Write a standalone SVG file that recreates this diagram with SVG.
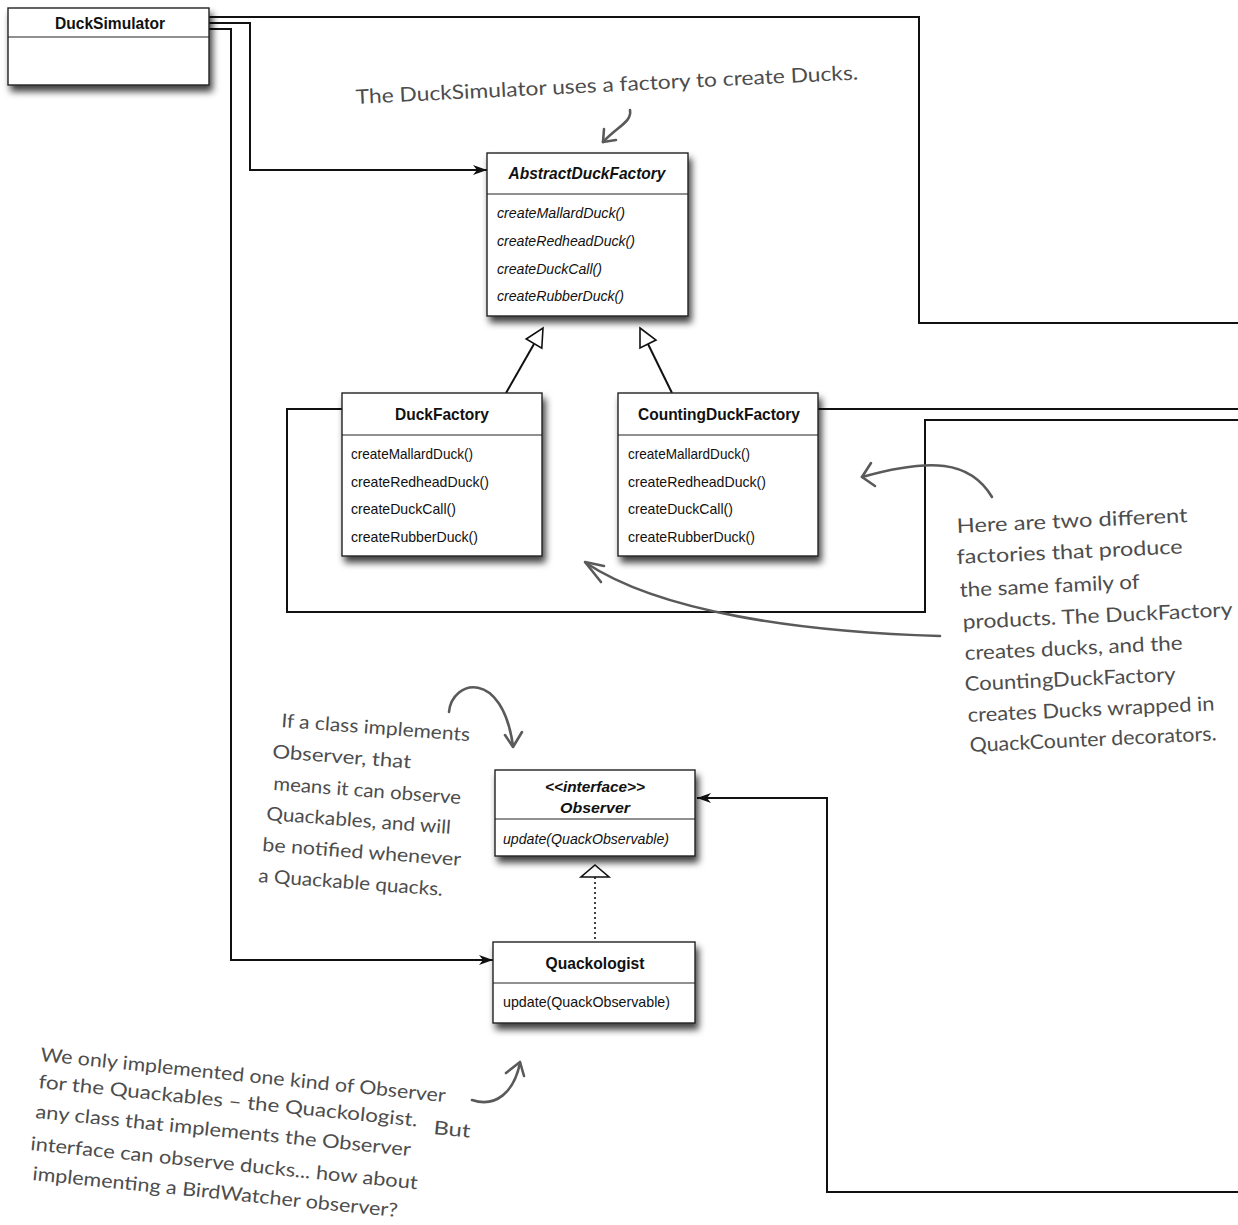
<svg xmlns="http://www.w3.org/2000/svg" width="1238" height="1225" viewBox="0 0 1238 1225">
<style>
.box{fill:#fff;stroke:#222;stroke-width:1.4}
.div{stroke:#222;stroke-width:1.2}
.title{font-family:"Liberation Sans",Arial,sans-serif;font-size:16.5px;font-weight:bold;fill:#111;text-anchor:middle}
.ititle{font-family:"Liberation Sans",Arial,sans-serif;font-size:16.5px;font-weight:bold;font-style:italic;fill:#111;text-anchor:middle}
.m{font-family:"Liberation Sans",Arial,sans-serif;font-size:14.5px;fill:#111}
.im{font-family:"Liberation Sans",Arial,sans-serif;font-size:14.5px;font-style:italic;fill:#111}
.conn{fill:none;stroke:#111;stroke-width:2}
.hand{font-family:Lato,"Open Sans",sans-serif;font-size:20px;fill:#4d4d4d}
.hand2{font-family:Lato,"Open Sans",sans-serif;font-size:19px;fill:#4d4d4d}
.harrow{fill:none;stroke:#5a5a5a;stroke-width:2.6;stroke-linecap:round;stroke-linejoin:round}
</style>
<defs>
<filter id="sh" x="-10%" y="-10%" width="130%" height="145%">
<feDropShadow dx="3" dy="6" stdDeviation="3.5" flood-color="#000" flood-opacity="0.75"/>
</filter>
<marker id="arr" markerWidth="14" markerHeight="10" refX="14" refY="5" orient="auto" markerUnits="userSpaceOnUse">
<path d="M0,0 L14,5 L0,10 L4,5 z" fill="#111"/>
</marker>
</defs>

<g id="connectors">
<polyline class="conn" points="209,17 919,17 919,323 1238,323"/>
<polyline class="conn" points="209,23 250,23 250,170 487,170" marker-end="url(#arr)"/>
<polyline class="conn" points="209,29 231,29 231,960 493,960" marker-end="url(#arr)"/>
<polyline class="conn" points="342,409 287,409 287,612 925,612 925,420 1238,420"/>
<polyline class="conn" points="818,409 1238,409"/>
<polyline class="conn" points="1238,1192 827,1192 827,798 697,798" marker-end="url(#arr)"/>
<line class="conn" x1="506" y1="393" x2="534" y2="344"/>
<polygon points="543,328 541.8,348.2 526.2,339" fill="#fff" stroke="#111" stroke-width="1.6"/>
<line class="conn" x1="672" y1="393" x2="648" y2="344"/>
<polygon points="640,328 656,340 640,348" fill="#fff" stroke="#111" stroke-width="1.6"/>
<line x1="595" y1="877" x2="595" y2="940" stroke="#111" stroke-width="1.6" stroke-dasharray="2,3"/>
<polygon points="595,865 609,877 581,877" fill="#fff" stroke="#111" stroke-width="1.6"/>
</g>

<g id="DuckSimulator">
<rect class="box" x="8" y="8" width="201" height="77" filter="url(#sh)"/>
<line class="div" x1="8" y1="37" x2="209" y2="37"/>
<text class="title" x="110" y="29" textLength="110" lengthAdjust="spacingAndGlyphs">DuckSimulator</text>
</g>

<g id="AbstractDuckFactory">
<rect class="box" x="487" y="153" width="201" height="163" filter="url(#sh)"/>
<line class="div" x1="487" y1="194" x2="688" y2="194"/>
<text class="ititle" x="587" y="179" textLength="157" lengthAdjust="spacingAndGlyphs">AbstractDuckFactory</text>
<text class="im" x="497" y="218" textLength="128" lengthAdjust="spacingAndGlyphs">createMallardDuck()</text>
<text class="im" x="497" y="246" textLength="138" lengthAdjust="spacingAndGlyphs">createRedheadDuck()</text>
<text class="im" x="497" y="274" textLength="105" lengthAdjust="spacingAndGlyphs">createDuckCall()</text>
<text class="im" x="497" y="301" textLength="127" lengthAdjust="spacingAndGlyphs">createRubberDuck()</text>
</g>

<g id="DuckFactory">
<rect class="box" x="342" y="393" width="200" height="163" filter="url(#sh)"/>
<line class="div" x1="342" y1="435" x2="542" y2="435"/>
<text class="title" x="442" y="420" textLength="94" lengthAdjust="spacingAndGlyphs">DuckFactory</text>
<text class="m" x="351" y="459" textLength="122" lengthAdjust="spacingAndGlyphs">createMallardDuck()</text>
<text class="m" x="351" y="487" textLength="138" lengthAdjust="spacingAndGlyphs">createRedheadDuck()</text>
<text class="m" x="351" y="514" textLength="105" lengthAdjust="spacingAndGlyphs">createDuckCall()</text>
<text class="m" x="351" y="542" textLength="127" lengthAdjust="spacingAndGlyphs">createRubberDuck()</text>
</g>

<g id="CountingDuckFactory">
<rect class="box" x="618" y="393" width="200" height="163" filter="url(#sh)"/>
<line class="div" x1="618" y1="435" x2="818" y2="435"/>
<text class="title" x="719" y="420" textLength="162" lengthAdjust="spacingAndGlyphs">CountingDuckFactory</text>
<text class="m" x="628" y="459" textLength="122" lengthAdjust="spacingAndGlyphs">createMallardDuck()</text>
<text class="m" x="628" y="487" textLength="138" lengthAdjust="spacingAndGlyphs">createRedheadDuck()</text>
<text class="m" x="628" y="514" textLength="105" lengthAdjust="spacingAndGlyphs">createDuckCall()</text>
<text class="m" x="628" y="542" textLength="127" lengthAdjust="spacingAndGlyphs">createRubberDuck()</text>
</g>

<g id="Observer">
<rect class="box" x="495" y="770" width="200" height="86" filter="url(#sh)"/>
<line class="div" x1="495" y1="819" x2="695" y2="819"/>
<text class="ititle" x="595" y="792" style="font-size:15.5px" textLength="100" lengthAdjust="spacingAndGlyphs">&lt;&lt;interface&gt;&gt;</text>
<text class="ititle" x="595" y="813" style="font-size:15.5px" textLength="70" lengthAdjust="spacingAndGlyphs">Observer</text>
<text class="im" x="503" y="844" textLength="166" lengthAdjust="spacingAndGlyphs">update(QuackObservable)</text>
</g>

<g id="Quackologist">
<rect class="box" x="493" y="942" width="202" height="81" filter="url(#sh)"/>
<line class="div" x1="493" y1="983" x2="695" y2="983"/>
<text class="title" x="595" y="969" textLength="99" lengthAdjust="spacingAndGlyphs">Quackologist</text>
<text class="m" x="503" y="1007" textLength="167" lengthAdjust="spacingAndGlyphs">update(QuackObservable)</text>
</g>

<g id="note-factory">
<text class="hand" x="356" y="104" transform="rotate(-2.8 356 104)" textLength="503" lengthAdjust="spacingAndGlyphs">The DuckSimulator uses a factory to create Ducks.</text>
<path class="harrow" d="M630 110 C632 122 618 126 603 142"/>
<path class="harrow" d="M604 129 L603 142 L616 140"/>
</g>

<g id="note-two-factories">
<text class="hand" x="957" y="533" transform="rotate(-2.7 957 533)" textLength="231" lengthAdjust="spacingAndGlyphs">Here are two different</text>
<text class="hand" x="957" y="564" transform="rotate(-2.7 957 564)" textLength="226" lengthAdjust="spacingAndGlyphs">factories that produce</text>
<text class="hand" x="960" y="597" transform="rotate(-2.7 960 597)" textLength="180" lengthAdjust="spacingAndGlyphs">the same family of</text>
<text class="hand" x="963" y="629" transform="rotate(-2.7 963 629)" textLength="270" lengthAdjust="spacingAndGlyphs">products. The DuckFactory</text>
<text class="hand" x="965" y="660" transform="rotate(-2.7 965 660)" textLength="218" lengthAdjust="spacingAndGlyphs">creates ducks, and the</text>
<text class="hand" x="965" y="691" transform="rotate(-2.7 965 691)" textLength="211" lengthAdjust="spacingAndGlyphs">CountingDuckFactory</text>
<text class="hand" x="968" y="722" transform="rotate(-2.7 968 722)" textLength="247" lengthAdjust="spacingAndGlyphs">creates Ducks wrapped in</text>
<text class="hand" x="970" y="752" transform="rotate(-2.7 970 752)" textLength="247" lengthAdjust="spacingAndGlyphs">QuackCounter decorators.</text>
<path class="harrow" d="M992 497 C970 460 930 458 862 477"/>
<path class="harrow" d="M871 463 L862 477 L875 486"/>
<path class="harrow" d="M940 636 C800 632 660 612 586 563"/>
<path class="harrow" d="M604 566 L585 562 L601 582"/>
</g>

<g id="note-observer">
<text class="hand2" x="281" y="727" transform="rotate(4.3 281 727)" textLength="189" lengthAdjust="spacingAndGlyphs">If a class implements</text>
<text class="hand2" x="272" y="758" transform="rotate(4.3 272 758)" textLength="139" lengthAdjust="spacingAndGlyphs">Observer, that</text>
<text class="hand2" x="273" y="790" transform="rotate(4.3 273 790)" textLength="188" lengthAdjust="spacingAndGlyphs">means it can observe</text>
<text class="hand2" x="266" y="820" transform="rotate(4.3 266 820)" textLength="185" lengthAdjust="spacingAndGlyphs">Quackables, and will</text>
<text class="hand2" x="262" y="851" transform="rotate(4.3 262 851)" textLength="199" lengthAdjust="spacingAndGlyphs">be notified whenever</text>
<text class="hand2" x="258" y="882" transform="rotate(4.3 258 882)" textLength="185" lengthAdjust="spacingAndGlyphs">a Quackable quacks.</text>
<path class="harrow" d="M449 712 C452 680 502 668 513 746"/>
<path class="harrow" d="M505 735 L513 747 L522 732"/>
</g>

<g id="note-birdwatcher">
<text class="hand2" x="40" y="1061" transform="rotate(5.8 40 1061)" textLength="407" lengthAdjust="spacingAndGlyphs">We only implemented one kind of Observer</text>
<text class="hand2" x="38" y="1088" transform="rotate(5.8 38 1088)" textLength="381" lengthAdjust="spacingAndGlyphs">for the Quackables – the Quackologist.</text>
<text class="hand2" x="433" y="1134" transform="rotate(5.8 433 1134)" textLength="37" lengthAdjust="spacingAndGlyphs">But</text>
<text class="hand2" x="35" y="1118" transform="rotate(5.8 35 1118)" textLength="377" lengthAdjust="spacingAndGlyphs">any class that implements the Observer</text>
<text class="hand2" x="30" y="1150" transform="rotate(5.8 30 1150)" textLength="389" lengthAdjust="spacingAndGlyphs">interface can observe ducks... how about</text>
<text class="hand2" x="32" y="1180" transform="rotate(5.8 32 1180)" textLength="367" lengthAdjust="spacingAndGlyphs">implementing a BirdWatcher observer?</text>
<path class="harrow" d="M472 1100 C496 1108 514 1092 520 1063"/>
<path class="harrow" d="M506 1073 L520 1062 L524 1076"/>
</g>
</svg>
